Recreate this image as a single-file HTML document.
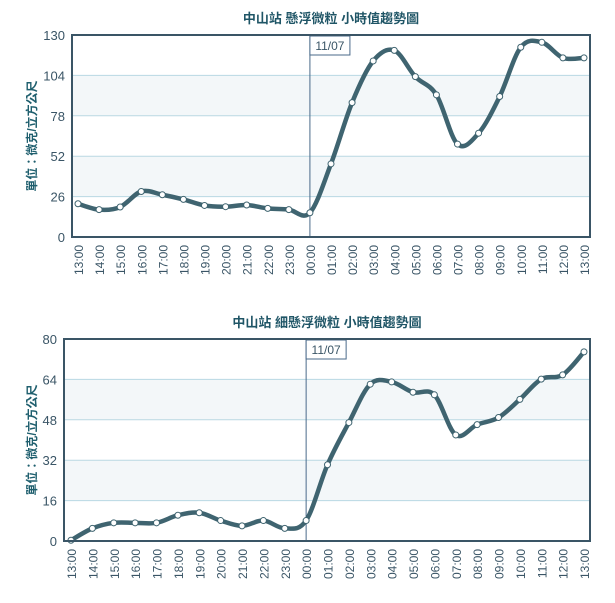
<!DOCTYPE html>
<html><head><meta charset="utf-8"><style>
body{margin:0;background:#fff;width:615px;height:603px;overflow:hidden}
svg{display:block}
text{font-family:"Liberation Sans","Noto Sans CJK TC",sans-serif}
</style></head><body>
<svg id="c" width="615" height="603"></svg>
<script>
const hours=["13:00","14:00","15:00","16:00","17:00","18:00","19:00","20:00","21:00","22:00","23:00","00:00","01:00","02:00","03:00","04:00","05:00","06:00","07:00","08:00","09:00","10:00","11:00","12:00","13:00"];
const pm10Values=[21.4,17.6,19.3,29.3,27.2,24.2,20.3,19.5,20.6,18.4,17.6,15.6,47.1,86.5,113.3,120.1,103.2,91.5,59.8,66.8,90.4,122.1,125.3,115.3,115.3];
const pm25Values=[0.3,5.0,7.2,7.2,7.2,10.2,11.2,8.1,6.0,8.1,5.0,8.1,30.2,46.9,62.1,63.0,58.9,57.9,42.0,46.1,48.9,56.1,64.1,65.8,74.9];
const pm10Ticks=[0,26,52,78,104,130];
const pm25Ticks=[0,16,32,48,64,80];
const dateLabel="11/07";
const NS="http://www.w3.org/2000/svg";
const svg=document.getElementById('c');
function mk(tag,attrs,parent){const e=document.createElementNS(NS,tag);for(const k in attrs)e.setAttribute(k,attrs[k]);(parent||svg).appendChild(e);return e;}
function chart(title,vals,ticks,L,R,T,B,x0,x1,name){
  const g=mk('g',{});
  
  
  const max=ticks[ticks.length-1];
  const y=v=>B-(v/max)*(B-T);
  const x=i=>x0+i*(x1-x0)/(hours.length-1);
  for(let i=0;i<ticks.length-1;i++){
    if(i%2==1){const r=mk('rect',{x:L,y:y(ticks[i+1]),width:R-L,height:y(ticks[i])-y(ticks[i+1]),fill:'#f3f7f9'},g);
    
    }
  }
  ticks.forEach((t,i)=>{
    if(i>0&&i<ticks.length-1){const l=mk('line',{x1:L,x2:R,y1:y(t),y2:y(t),stroke:'#b9d8e3','stroke-width':1},g);
    
    }
    const tx=mk('text',{x:L-7,y:y(t)+5,'text-anchor':'end','font-size':13,fill:'#3a5566'},g);
    
    
    tx.textContent=t;
  });
  hours.forEach((h,i)=>{
    const tx=mk('text',{transform:`translate(${x(i)+5},${B+8}) rotate(-90)`,'text-anchor':'end','font-size':12,fill:'#3a5566','font-family':'"DejaVu Sans",sans-serif'},g);
    
    
    tx.textContent=h;
  });
  const ti=mk('text',{x:(L+R)/2,y:T-12,'text-anchor':'middle','font-size':13,'font-weight':'bold',fill:'#1f5566'},g);
  
  
  ti.textContent=title;
  const yt=mk('text',{transform:`translate(36,${(T+B)/2}) rotate(-90)`,'text-anchor':'middle','font-size':12,'font-weight':'bold',fill:'#1f5f6e'},g);
  
  
  yt.textContent='單位：微克/立方公尺';
  const mi=hours.indexOf('00:00');
  const vl=mk('line',{x1:x(mi),x2:x(mi),y1:T,y2:B,stroke:'#4a6a8a','stroke-width':1},g);
  
  
  const bx=mk('rect',{x:x(mi),y:T+1,width:40,height:19,fill:'#fff',stroke:'#4a6a8a'},g);
  
  
  const bt=mk('text',{x:x(mi)+20,y:T+15,'text-anchor':'middle','font-size':12,fill:'#3a5566'},g);
  
  
  bt.textContent=dateLabel;
  const pts=vals.map((v,i)=>[x(i),y(v)]);
  let d=`M${pts[0][0]},${pts[0][1]}`;
  for(let i=0;i<pts.length-1;i++){
    const p0=pts[Math.max(0,i-1)],p1=pts[i],p2=pts[i+1],p3=pts[Math.min(pts.length-1,i+2)];
    const k=1/6;
    d+=` C${p1[0]+(p2[0]-p0[0])*k},${p1[1]+(p2[1]-p0[1])*k} ${p2[0]-(p3[0]-p1[0])*k},${p2[1]-(p3[1]-p1[1])*k} ${p2[0]},${p2[1]}`;
  }
  const ln=mk('path',{d:d,fill:'none',stroke:'#3f6470','stroke-width':4.5,'stroke-linejoin':'round'},g);
  
  
  pts.forEach(p=>{
    const c=mk('circle',{cx:p[0],cy:p[1],r:3,fill:'#fff',stroke:'#3f6470','stroke-width':1},g);
    
    
  });
  const fr=mk('rect',{x:L,y:T,width:R-L,height:B-T,fill:'none',stroke:'#3a5566','stroke-width':2},g);
  
  
}
chart('中山站 懸浮微粒 小時值趨勢圖',pm10Values,pm10Ticks,72,590,35,237,78,584,'pm10-chart');
chart('中山站 細懸浮微粒 小時值趨勢圖',pm25Values,pm25Ticks,64,590,339,541,71,584,'pm25-chart');
</script>
</body></html>
